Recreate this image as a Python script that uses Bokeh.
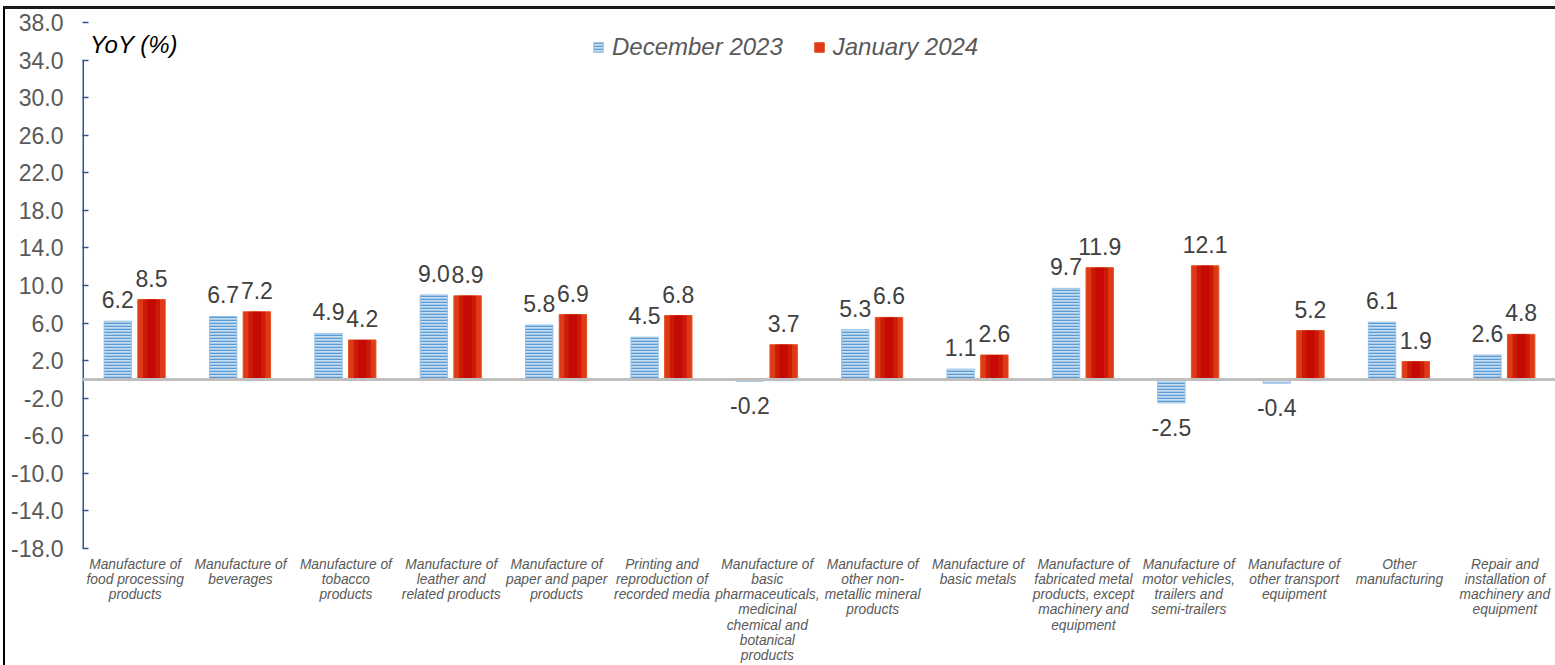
import numpy as np
from bokeh.plotting import figure
from bokeh.models import (ColumnDataSource, FixedTicker, NumeralTickFormatter, Span,
                          Label, LabelSet, Legend, LegendItem, Range1d)
from bokeh.transform import dodge
from bokeh.core.properties import value
from bokeh.embed import file_html
from bokeh.resources import INLINE

# ---------------- data ----------------
categories = [
    "Manufacture of\nfood processing\nproducts",
    "Manufacture of\nbeverages",
    "Manufacture of\ntobacco\nproducts",
    "Manufacture of\nleather and\nrelated products",
    "Manufacture of\npaper and paper\nproducts",
    "Printing and\nreproduction of\nrecorded media",
    "Manufacture of\nbasic\npharmaceuticals,\nmedicinal\nchemical and\nbotanical\nproducts",
    "Manufacture of\nother non-\nmetallic mineral\nproducts",
    "Manufacture of\nbasic metals",
    "Manufacture of\nfabricated metal\nproducts, except\nmachinery and\nequipment",
    "Manufacture of\nmotor vehicles,\ntrailers and\nsemi-trailers",
    "Manufacture of\nother transport\nequipment",
    "Other\nmanufacturing",
    "Repair and\ninstallation of\nmachinery and\nequipment",
]
dec_2023 = [6.2, 6.7, 4.9, 9.0, 5.8, 4.5, -0.2, 5.3, 1.1, 9.7, -2.5, -0.4, 6.1, 2.6]
jan_2024 = [8.5, 7.2, 4.2, 8.9, 6.9, 6.8, 3.7, 6.6, 2.6, 11.9, 12.1, 5.2, 1.9, 4.8]
series_names = ["December 2023", "January 2024"]
y_ticks = [-18, -14, -10, -6, -2, 2, 6, 10, 14, 18, 22, 26, 30, 34, 38]
y_axis_label = "YoY (%)"

FONT = "Liberation Sans"

# ---------------- source ----------------
n = len(categories)
xc = (np.arange(n) + 0.5).tolist()


def label_cols(vals):
    base = ["bottom" if v >= 0 else "top" for v in vals]
    off = [13 if v >= 0 else -16 for v in vals]
    txt = [f"{v:.1f}" for v in vals]
    return base, off, txt


db, do, dt = label_cols(dec_2023)
jb, jo, jt = label_cols(jan_2024)
src = ColumnDataSource(dict(x=xc, dec=dec_2023, jan=jan_2024,
                            dec_base=db, dec_off=do, dec_txt=dt,
                            jan_base=jb, jan_off=jo, jan_txt=jt))

p = figure(width=1550, height=656, x_range=Range1d(0, n), y_range=Range1d(y_ticks[0], y_ticks[-1]),
           output_backend="svg", toolbar_location=None,
           min_border_left=77, min_border_right=0, min_border_top=13, min_border_bottom=120)
p.outline_line_color = None
p.grid.visible = False
p.background_fill_color = "white"
p.border_fill_color = "white"
p.styles = {"border-top": "3px solid #1a1a1a", "border-left": "2px solid #000000",
            "margin-left": "3px", "margin-top": "6px", "box-sizing": "content-box"}

W = 0.26
DEC_OFF = -0.165
JAN_OFF = 0.155

r_dec = p.vbar(x=dodge("x", DEC_OFF, range=p.x_range), top="dec", bottom=0, width=W, source=src,
               fill_color="#C6DDF2", line_color="#9DC3E6", line_width=1,
               hatch_pattern="horizontal_line", hatch_color="#5B9BD5", hatch_scale=3, hatch_weight=1.6)
r_jan = p.vbar(x=dodge("x", JAN_OFF, range=p.x_range), top="jan", bottom=0, width=W, source=src,
               fill_color="#DE3A18", line_color="#E4521F", line_width=1)
p.vbar(x=dodge("x", JAN_OFF, range=p.x_range), top="jan", bottom=0, width=W * 0.62, source=src,
       fill_color="#CC1A08", line_color=None)
p.vbar(x=dodge("x", JAN_OFF, range=p.x_range), top="jan", bottom=0, width=W * 0.3, source=src,
       fill_color="#C40A02", line_color=None)

# zero line
p.add_layout(Span(location=0, dimension="width", line_color="#BFBFBF", line_width=3))

# y axis line (stops at 34 as in the original)
p.segment(x0=[p.x_range.start], y0=[y_ticks[0]], x1=[p.x_range.start], y1=[y_ticks[-2]],
          line_color="#2F5597", line_width=3)

# data labels
for key, off in (("dec", DEC_OFF), ("jan", JAN_OFF)):
    p.add_layout(LabelSet(x=dodge("x", off, range=p.x_range), y=key, text=f"{key}_txt", source=src,
                          text_align="center", text_baseline={"field": f"{key}_base"},
                          y_offset={"field": f"{key}_off"},
                          text_font=value(FONT), text_font_size="23px", text_color="#404040"))

# axes
xa = p.xaxis[0]
xa.ticker = FixedTicker(ticks=xc)
xa.major_label_overrides = {x: c for x, c in zip(xc, categories)}
xa.axis_line_color = None
xa.major_tick_line_color = None
xa.minor_tick_line_color = None
xa.major_tick_in = 0
xa.major_tick_out = 0
xa.major_label_standoff = 8
xa.major_label_text_font = FONT
xa.major_label_text_font_size = "13.8px"
xa.major_label_text_font_style = "italic"
xa.major_label_text_color = "#595959"
xa.major_label_text_line_height = 1.02

ya = p.yaxis[0]
ya.ticker = FixedTicker(ticks=y_ticks)
ya.formatter = NumeralTickFormatter(format="0.0")
ya.axis_line_color = None
ya.major_tick_in = 6
ya.major_tick_out = 0
ya.major_tick_line_color = "#2F5597"
ya.major_tick_line_width = 1.5
ya.minor_tick_line_color = None
ya.major_label_standoff = 19
ya.major_label_text_font = FONT
ya.major_label_text_font_size = "23px"
ya.major_label_text_color = "#595959"

p.add_layout(Label(x=0.07, y=35.7, text=y_axis_label, text_baseline="middle",
                   text_font=FONT, text_font_size="24px", text_font_style="italic",
                   text_color="#000000"))

legend = Legend(items=[LegendItem(label=series_names[0], renderers=[r_dec]),
                       LegendItem(label=series_names[1], renderers=[r_jan])],
                location=(510, 487), orientation="horizontal",
                padding=0, margin=0, spacing=30, label_standoff=8,
                glyph_width=12, glyph_height=12, label_height=24,
                border_line_color=None, background_fill_alpha=0,
                label_text_font=FONT, label_text_font_size="24px",
                label_text_font_style="italic", label_text_color="#595959")
p.add_layout(legend, "center")

open("out.html", "w").write(file_html(p, INLINE))
